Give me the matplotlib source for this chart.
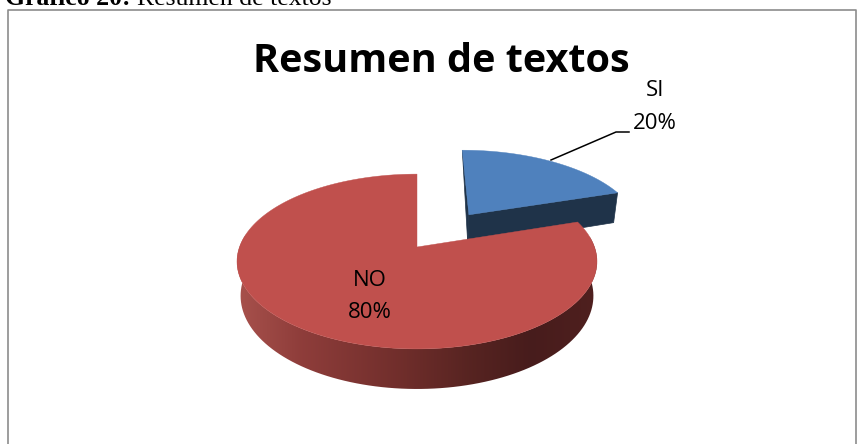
import numpy as np
import matplotlib
matplotlib.use('Agg')
import matplotlib.pyplot as plt
from matplotlib.patches import Polygon

# chart values
labels = ['SI', 'NO']
values = [20, 80]
percent_text = ['20%', '80%']
explode = [0.5, 0.0]
top_colors = ['#4f81bd', '#c0504d']
title = 'Resumen de textos'

# perspective of the pie plate, in pixels
apex_x, apex_y = 417, 247
scale_x, scale_y = 177.5, 85
persp = 0.166
depth = 33.4
shrink = 0.98
n_steps = 160
si_nudge = 3


def project(x, y):
    d = 1 + persp * y
    return apex_x + scale_x * x / d, apex_y - scale_y * y / d


# shading of the red rim runs from left to right
rim_x = [236, 300, 400, 470, 530, 596]
rim_r = [0.66, 0.56, 0.44, 0.34, 0.28, 0.31]
rim_g = [0.32, 0.24, 0.18, 0.14, 0.11, 0.125]
rim_b = [0.30, 0.23, 0.17, 0.13, 0.11, 0.12]

fig = plt.figure(figsize=(8.63, 4.44), dpi=100)
ax = fig.add_axes([0, 0, 1, 1])

# pie gives the slice angles, they get redrawn in perspective below
wedges, _ = ax.pie(values, startangle=90, counterclock=False)
angles = [(w.theta1, w.theta2) for w in wedges]
for w in wedges:
    w.remove()

for i in range(len(values)):
    t1, t2 = np.radians(angles[i])
    mid = (t1 + t2) / 2
    ox, oy = explode[i] * np.cos(mid), explode[i] * np.sin(mid)
    t = np.linspace(t1, t2, n_steps)
    arc_x, arc_y = project(ox + np.cos(t), oy + np.sin(t))
    drop = depth / (1 + persp * (oy + np.sin(t)))
    low_x = apex_x + (arc_x - apex_x) * shrink
    cx, cy = project(ox, oy)
    cdrop = depth / (1 + persp * oy)
    low_cx = apex_x + (cx - apex_x) * shrink

    if labels[i] == 'SI':
        arc_x, low_x = arc_x + si_nudge, low_x + si_nudge
        cx, low_cx = cx + si_nudge, low_cx + si_nudge
        # pie runs clockwise, so theta2 is the top edge and theta1 the right one
        side_x = [cx, arc_x[0], low_x[0], low_cx]
        side_y = [cy, arc_y[0], arc_y[0] + drop[0], cy + cdrop]
        ax.fill(side_x, side_y, color='#1f3349', lw=0.5, zorder=2)
        back_x = [arc_x[-1], cx, low_cx]
        back_y = [arc_y[-1], cy, cy + cdrop]
        ax.fill(back_x, back_y, color='#1f3349', lw=0.5, zorder=2)
    else:
        front = np.sin(t) < 0.15
        poly_x = np.r_[arc_x[front], low_x[front][::-1]]
        poly_y = np.r_[arc_y[front], (arc_y + drop)[front][::-1]]
        xs = np.linspace(rim_x[0], rim_x[-1], 360)
        shade = np.stack([np.interp(xs, rim_x, rim_r), np.interp(xs, rim_x, rim_g),
                          np.interp(xs, rim_x, rim_b)], axis=-1)[None, :, :]
        im = ax.imshow(shade, extent=(rim_x[0], rim_x[-1], 444, 200), aspect='auto', zorder=3)
        rim = Polygon(np.c_[poly_x, poly_y], closed=True, transform=ax.transData)
        im.set_clip_path(rim)

    z = 2.5 if labels[i] == 'SI' else 4
    ax.fill(np.r_[cx, arc_x], np.r_[cy, arc_y], color=top_colors[i], lw=0.3, zorder=z)

ax.set_aspect('auto')
ax.set_xlim(0, 863)
ax.set_ylim(444, 0)
ax.axis('off')

# chart frame, cut by the page at the bottom
ax.plot([7.5, 7.5, 855.5, 855.5], [444, 10, 10, 444], color='#8c8c8c', lw=1.2, zorder=1)

# leader line of the SI label
ax.plot([551, 616, 629], [160, 132, 132], color='black', lw=1.1, zorder=5)

body = 'Open Sans'
ax.text(441, 61, title, fontsize=28.5, fontweight='bold', family=body, ha='center', va='center', zorder=6)
ax.text(655, 91, labels[0], fontsize=16, family=body, ha='center', va='center', zorder=6)
ax.text(655, 123, percent_text[0], fontsize=16, family=body, ha='center', va='center', zorder=6)
ax.text(370, 280, labels[1], fontsize=16, family=body, ha='center', va='center', zorder=6)
ax.text(370, 312, percent_text[1], fontsize=16, family=body, ha='center', va='center', zorder=6)

# caption above the chart, the page crop cuts its top
ax.text(5, 5, 'Gráfico 20:', fontsize=18.5, fontweight='bold', family='Liberation Serif', va='baseline', zorder=6)
ax.text(137, 5, 'Resumen de textos', fontsize=18.5, family='Liberation Serif', va='baseline', zorder=6)

plt.savefig('out.png', dpi=100)
